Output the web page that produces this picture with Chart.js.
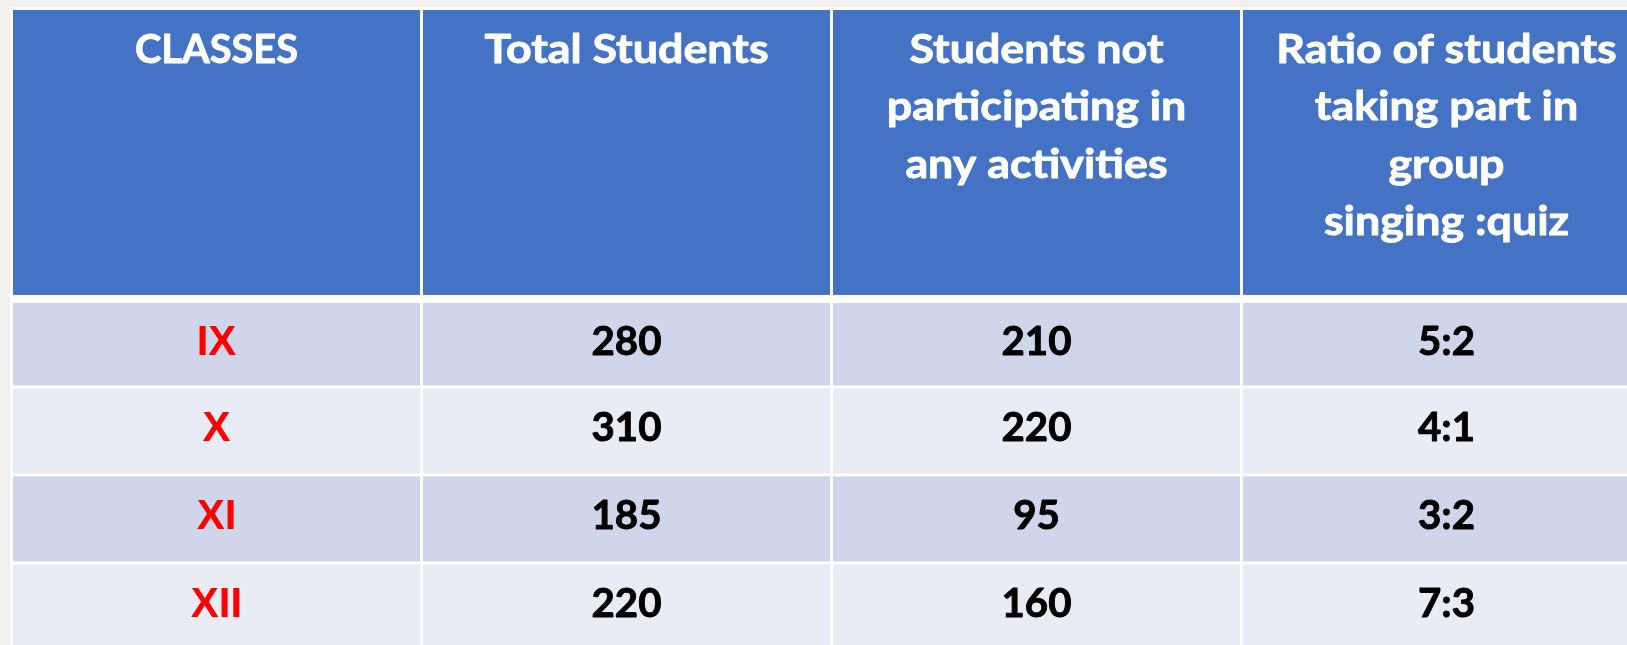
<!DOCTYPE html>
<html>
<head>
<meta charset="utf-8">
<title>Students table</title>
<script src="https://cdn.jsdelivr.net/npm/chart.js@4.4.1/dist/chart.umd.min.js"></script>
<style>
  html, body { margin: 0; padding: 0; background: #f0f0ee; overflow: hidden; }
  canvas { display: block; }
</style>
</head>
<body>
<canvas id="tableChart" width="1627" height="645"></canvas>
<script>
// Table content
const headers = [
  ['CLASSES'],
  ['Total Students'],
  ['Students not', 'participating in', 'any activities'],
  ['Ratio of students', 'taking part in', 'group', 'singing :quiz']
];
const classes = ['IX', 'X', 'XI', 'XII'];
const totalStudents = [280, 310, 185, 220];
const notParticipating = [210, 220, 95, 160];
const ratios = ['5:2', '4:1', '3:2', '7:3'];

// Layout: one column = 1 unit on x, one body row = 1 unit on y
const HEADER_ROWS = 3.3;
const GAP = 3;          // white cell border
const HEADER_GAP = 8;   // thicker line under the header
const HEADER_BLUE = '#4472c4';
const ROW_COLORS = ['#cfd5ea', '#e9ebf5'];

const HEADER_FONT = 'bold 41px Lato';
const NUMBER_FONT = 'bold 39.5px Lato';
const CLASS_FONT = 'bold 42px "Liberation Sans"';
const CAPS_SQUEEZE = 0.89; // Lato capitals run wider than the original face

// Lato is wider than the original face, so squeeze it a little
function squeezeFor(ctx, font, text, target) {
  ctx.font = font;
  const m = ctx.measureText(text);
  return target / (m.actualBoundingBoxLeft + m.actualBoundingBoxRight);
}

function drawText(ctx, text, cx, baseline, font, color, sx, thicken) {
  ctx.save();
  ctx.font = font;
  ctx.fillStyle = color;
  ctx.textAlign = 'center';
  ctx.textBaseline = 'alphabetic';
  ctx.translate(cx, baseline);
  ctx.scale(sx, 1);
  ctx.fillText(text, 0, 0);
  if (thicken) {
    ctx.strokeStyle = color;
    ctx.lineWidth = thicken;
    ctx.lineJoin = 'round';
    ctx.strokeText(text, 0, 0);
  }
  ctx.restore();
}

const tablePlugin = {
  id: 'tableCells',
  beforeDraw(chart) {
    const { ctx, scales: { x, y } } = chart;
    const cols = headers.length;
    const rows = classes.length;

    ctx.save();
    ctx.fillStyle = '#f0f0ee';
    ctx.fillRect(0, 0, chart.width, chart.height);

    // white backing = borders
    const left = x.getPixelForValue(0);
    const right = x.getPixelForValue(cols);
    const top = y.getPixelForValue(0);
    const bottom = y.getPixelForValue(HEADER_ROWS + rows);
    ctx.fillStyle = '#ffffff';
    ctx.fillRect(left - GAP / 2, top - GAP / 2, right - left + GAP, bottom - top + GAP);

    const headerSx = squeezeFor(ctx, HEADER_FONT, 'Ratio of students', 336);
    const numberSx = squeezeFor(ctx, NUMBER_FONT, '280', 68);

    // header cells
    const headerBottom = y.getPixelForValue(HEADER_ROWS);
    for (let c = 0; c < cols; c++) {
      const x0 = x.getPixelForValue(c) + GAP / 2;
      const x1 = x.getPixelForValue(c + 1) - GAP / 2;
      const y0 = top + GAP / 2;
      const y1 = headerBottom - HEADER_GAP / 2;
      ctx.fillStyle = HEADER_BLUE;
      ctx.fillRect(x0, y0, x1 - x0, y1 - y0);

      const cx = x.getPixelForValue(c + 0.5);
      headers[c].forEach((line, i) => {
        const sx = line === line.toUpperCase() ? headerSx * CAPS_SQUEEZE : headerSx;
        drawText(ctx, line, cx, y0 + 53 + i * 57.3, HEADER_FONT, '#ffffff', sx, 0.9);
      });
    }

    // body rows
    const columnsData = [classes, totalStudents, notParticipating, ratios];
    for (let r = 0; r < rows; r++) {
      const y0 = y.getPixelForValue(HEADER_ROWS + r) + (r === 0 ? HEADER_GAP / 2 : GAP / 2);
      const y1 = y.getPixelForValue(HEADER_ROWS + r + 1) - GAP / 2;
      const baseline = (y0 + y1) / 2 + 10.5;
      for (let c = 0; c < cols; c++) {
        const x0 = x.getPixelForValue(c) + GAP / 2;
        const x1 = x.getPixelForValue(c + 1) - GAP / 2;
        ctx.fillStyle = ROW_COLORS[r % 2];
        ctx.fillRect(x0, y0, x1 - x0, y1 - y0);

        const cx = x.getPixelForValue(c + 0.5);
        const value = String(columnsData[c][r]);
        if (c === 0) {
          drawText(ctx, value, cx, baseline, CLASS_FONT, '#ff0000', 1, 0);
        } else {
          drawText(ctx, value, cx, baseline, NUMBER_FONT, '#000000', numberSx, 0.9);
        }
      }
    }
    ctx.restore();
  }
};

function initTable() {
  new Chart(document.getElementById('tableChart'), {
    type: 'scatter',
    data: { datasets: [] },
    options: {
      responsive: false,
      animation: false,
      layout: { padding: 0 },
      scales: {
        x: { type: 'linear', min: -0.02805, max: 3.9402, display: false },
        y: { type: 'linear', min: -0.0966, max: 7.2329, reverse: true, display: false }
      },
      plugins: {
        legend: { display: false },
        tooltip: { enabled: false }
      }
    },
    plugins: [tablePlugin]
  });
}

Promise.all([
  document.fonts.load(HEADER_FONT),
  document.fonts.load(CLASS_FONT)
]).catch(() => {}).then(initTable);
</script>
</body>
</html>
